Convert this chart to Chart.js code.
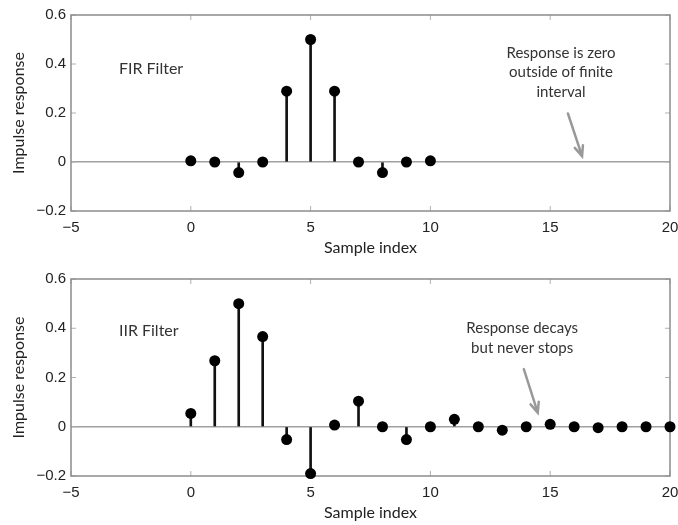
<!DOCTYPE html>
<html>
<head>
<meta charset="utf-8">
<script src="https://cdn.jsdelivr.net/npm/chart.js@4.4.0/dist/chart.umd.min.js"></script>
<style>
  body { margin: 0; background: #fff; }
  canvas { display: block; }
</style>
</head>
<body>
<canvas id="firChart" width="678" height="260"></canvas>
<canvas id="iirChart" width="678" height="265"></canvas>
<script>
// sample data
var firIndex = [0, 1, 2, 3, 4, 5, 6, 7, 8, 9, 10];
var firValues = [0.005, 0, -0.043, 0, 0.289, 0.5, 0.289, 0, -0.043, 0, 0.005];

var iirIndex = [0, 1, 2, 3, 4, 5, 6, 7, 8, 9, 10, 11, 12, 13, 14, 15, 16, 17, 18, 19, 20];
var iirValues = [0.054, 0.268, 0.5, 0.366, -0.052, -0.19, 0.007, 0.104, 0, -0.052, 0,
                 0.03, 0, -0.014, 0, 0.01, 0, -0.004, 0, 0, 0];

var xTicks = [-5, 0, 5, 10, 15, 20];
var yTicks = [-0.2, 0, 0.2, 0.4, 0.6];

var firNote = ["Response is zero", "outside of finite", "interval"];
var iirNote = ["Response decays", "but never stops"];

function fmt(v) {
    return v < 0 ? "\u2212" + Math.abs(v) : String(v);
}

function toPoints(xs, ys) {
    var pts = [];
    for (var i = 0; i < xs.length; i++) {
        pts.push({ x: xs[i], y: ys[i] });
    }
    return pts;
}

// box round the plot, inward ticks on all four sides, notes and arrows
var framePlugin = {
    id: "frame",
    beforeDatasetsDraw: function(chart) {
        var ctx = chart.ctx, a = chart.chartArea;
        var xs = chart.scales.x, ys = chart.scales.y;
        ctx.save();
        ctx.strokeStyle = "#b0b0b0";
        ctx.lineWidth = 1;
        xTicks.forEach(function(v) {
            var px = xs.getPixelForValue(v);
            ctx.beginPath();
            ctx.moveTo(px, a.bottom); ctx.lineTo(px, a.bottom - 5);
            ctx.moveTo(px, a.top); ctx.lineTo(px, a.top + 5);
            ctx.stroke();
        });
        yTicks.forEach(function(v) {
            var py = ys.getPixelForValue(v);
            ctx.beginPath();
            ctx.moveTo(a.left, py); ctx.lineTo(a.left + 5, py);
            ctx.moveTo(a.right, py); ctx.lineTo(a.right - 5, py);
            ctx.stroke();
        });
        ctx.strokeStyle = "#8c8c8c";
        ctx.lineWidth = 1.5;
        ctx.strokeRect(a.left, a.top, a.right - a.left, a.bottom - a.top);
        ctx.restore();
    },
    afterDraw: function(chart, args, opts) {
        var ctx = chart.ctx;
        var xs = chart.scales.x, ys = chart.scales.y;
        ctx.save();
        ctx.fillStyle = "#333";
        ctx.font = "16px Lato";
        ctx.textAlign = "left";
        ctx.textBaseline = "middle";
        ctx.fillText(opts.label, xs.getPixelForValue(opts.labelAt[0]), ys.getPixelForValue(opts.labelAt[1]));

        ctx.font = "15px Lato";
        ctx.textAlign = "center";
        var cx = xs.getPixelForValue(opts.noteAt[0]);
        var cy = ys.getPixelForValue(opts.noteAt[1]);
        opts.note.forEach(function(line, i) {
            ctx.fillText(line, cx, cy + i * 19.5);
        });

        var x0 = xs.getPixelForValue(opts.arrow[0]), y0 = ys.getPixelForValue(opts.arrow[1]);
        var x1 = xs.getPixelForValue(opts.arrow[2]), y1 = ys.getPixelForValue(opts.arrow[3]);
        var ang = Math.atan2(y1 - y0, x1 - x0);
        ctx.strokeStyle = "#999";
        ctx.lineWidth = 2.5;
        ctx.lineCap = "round";
        ctx.beginPath();
        ctx.moveTo(x0, y0); ctx.lineTo(x1, y1);
        ctx.moveTo(x1 - 11 * Math.cos(ang - 0.4), y1 - 11 * Math.sin(ang - 0.4));
        ctx.lineTo(x1, y1);
        ctx.lineTo(x1 - 11 * Math.cos(ang + 0.4), y1 - 11 * Math.sin(ang + 0.4));
        ctx.stroke();
        ctx.restore();
    }
};

function makeChart(canvasId, xs, ys, plotTop, axisHeight, notes) {
    var ctx = document.getElementById(canvasId).getContext("2d");
    return new Chart(ctx, {
        data: {
            datasets: [{
                type: "scatter",
                data: toPoints(xs, ys),
                pointRadius: 5.5,
                pointBackgroundColor: "#000",
                pointBorderWidth: 0,
                clip: false
            }, {
                type: "bar",
                data: toPoints(xs, ys),
                backgroundColor: "#111",
                barThickness: 2,
                borderWidth: 0
            }]
        },
        plugins: [framePlugin],
        options: {
            responsive: false,
            animation: false,
            events: [],
            layout: { padding: { top: plotTop, right: 8, left: 0, bottom: 0 } },
            plugins: {
                legend: { display: false },
                tooltip: { enabled: false },
                frame: notes
            },
            scales: {
                x: {
                    type: "linear",
                    offset: false,
                    min: -5, max: 20,
                    afterBuildTicks: function(s) { s.ticks = xTicks.map(function(v) { return { value: v }; }); },
                    afterFit: function(s) {
                        s.height = axisHeight;
                        s.paddingLeft = 0;
                        s.paddingRight = 0;
                    },
                    grid: { display: false, drawTicks: false, offset: false },
                    border: { display: false },
                    ticks: {
                        padding: 8,
                        color: "#222",
                        font: { family: "Liberation Sans", size: 15 },
                        maxRotation: 0,
                        callback: fmt
                    },
                    title: {
                        display: true,
                        text: "Sample index",
                        color: "#222",
                        font: { family: "Lato", size: 16 },
                        padding: { top: 4, bottom: 3 }
                    }
                },
                y: {
                    type: "linear",
                    min: -0.2, max: 0.6,
                    afterBuildTicks: function(s) { s.ticks = yTicks.map(function(v) { return { value: v }; }); },
                    afterFit: function(s) { s.width = 71; },
                    grid: {
                        drawTicks: false,
                        lineWidth: 1.5,
                        color: function(c) { return c.tick && c.tick.value === 0 ? "#a0a0a0" : "rgba(0,0,0,0)"; }
                    },
                    border: { display: false },
                    ticks: {
                        padding: 5,
                        color: "#222",
                        font: { family: "Liberation Sans", size: 15 },
                        callback: fmt
                    },
                    title: {
                        display: true,
                        text: "Impulse response",
                        color: "#222",
                        font: { family: "Lato", size: 16 },
                        padding: { top: 9, bottom: 4 }
                    }
                }
            }
        }
    });
}

makeChart("firChart", firIndex, firValues, 15, 49, {
    label: "FIR Filter", labelAt: [-3, 0.38],
    note: firNote, noteAt: [15.45, 0.446],
    arrow: [15.74, 0.198, 16.33, 0.024]
});

makeChart("iirChart", iirIndex, iirValues, 19, 49, {
    label: "IIR Filter", labelAt: [-3, 0.39],
    note: iirNote, noteAt: [13.83, 0.4],
    arrow: [13.9, 0.234, 14.48, 0.057]
});
</script>
</body>
</html>
